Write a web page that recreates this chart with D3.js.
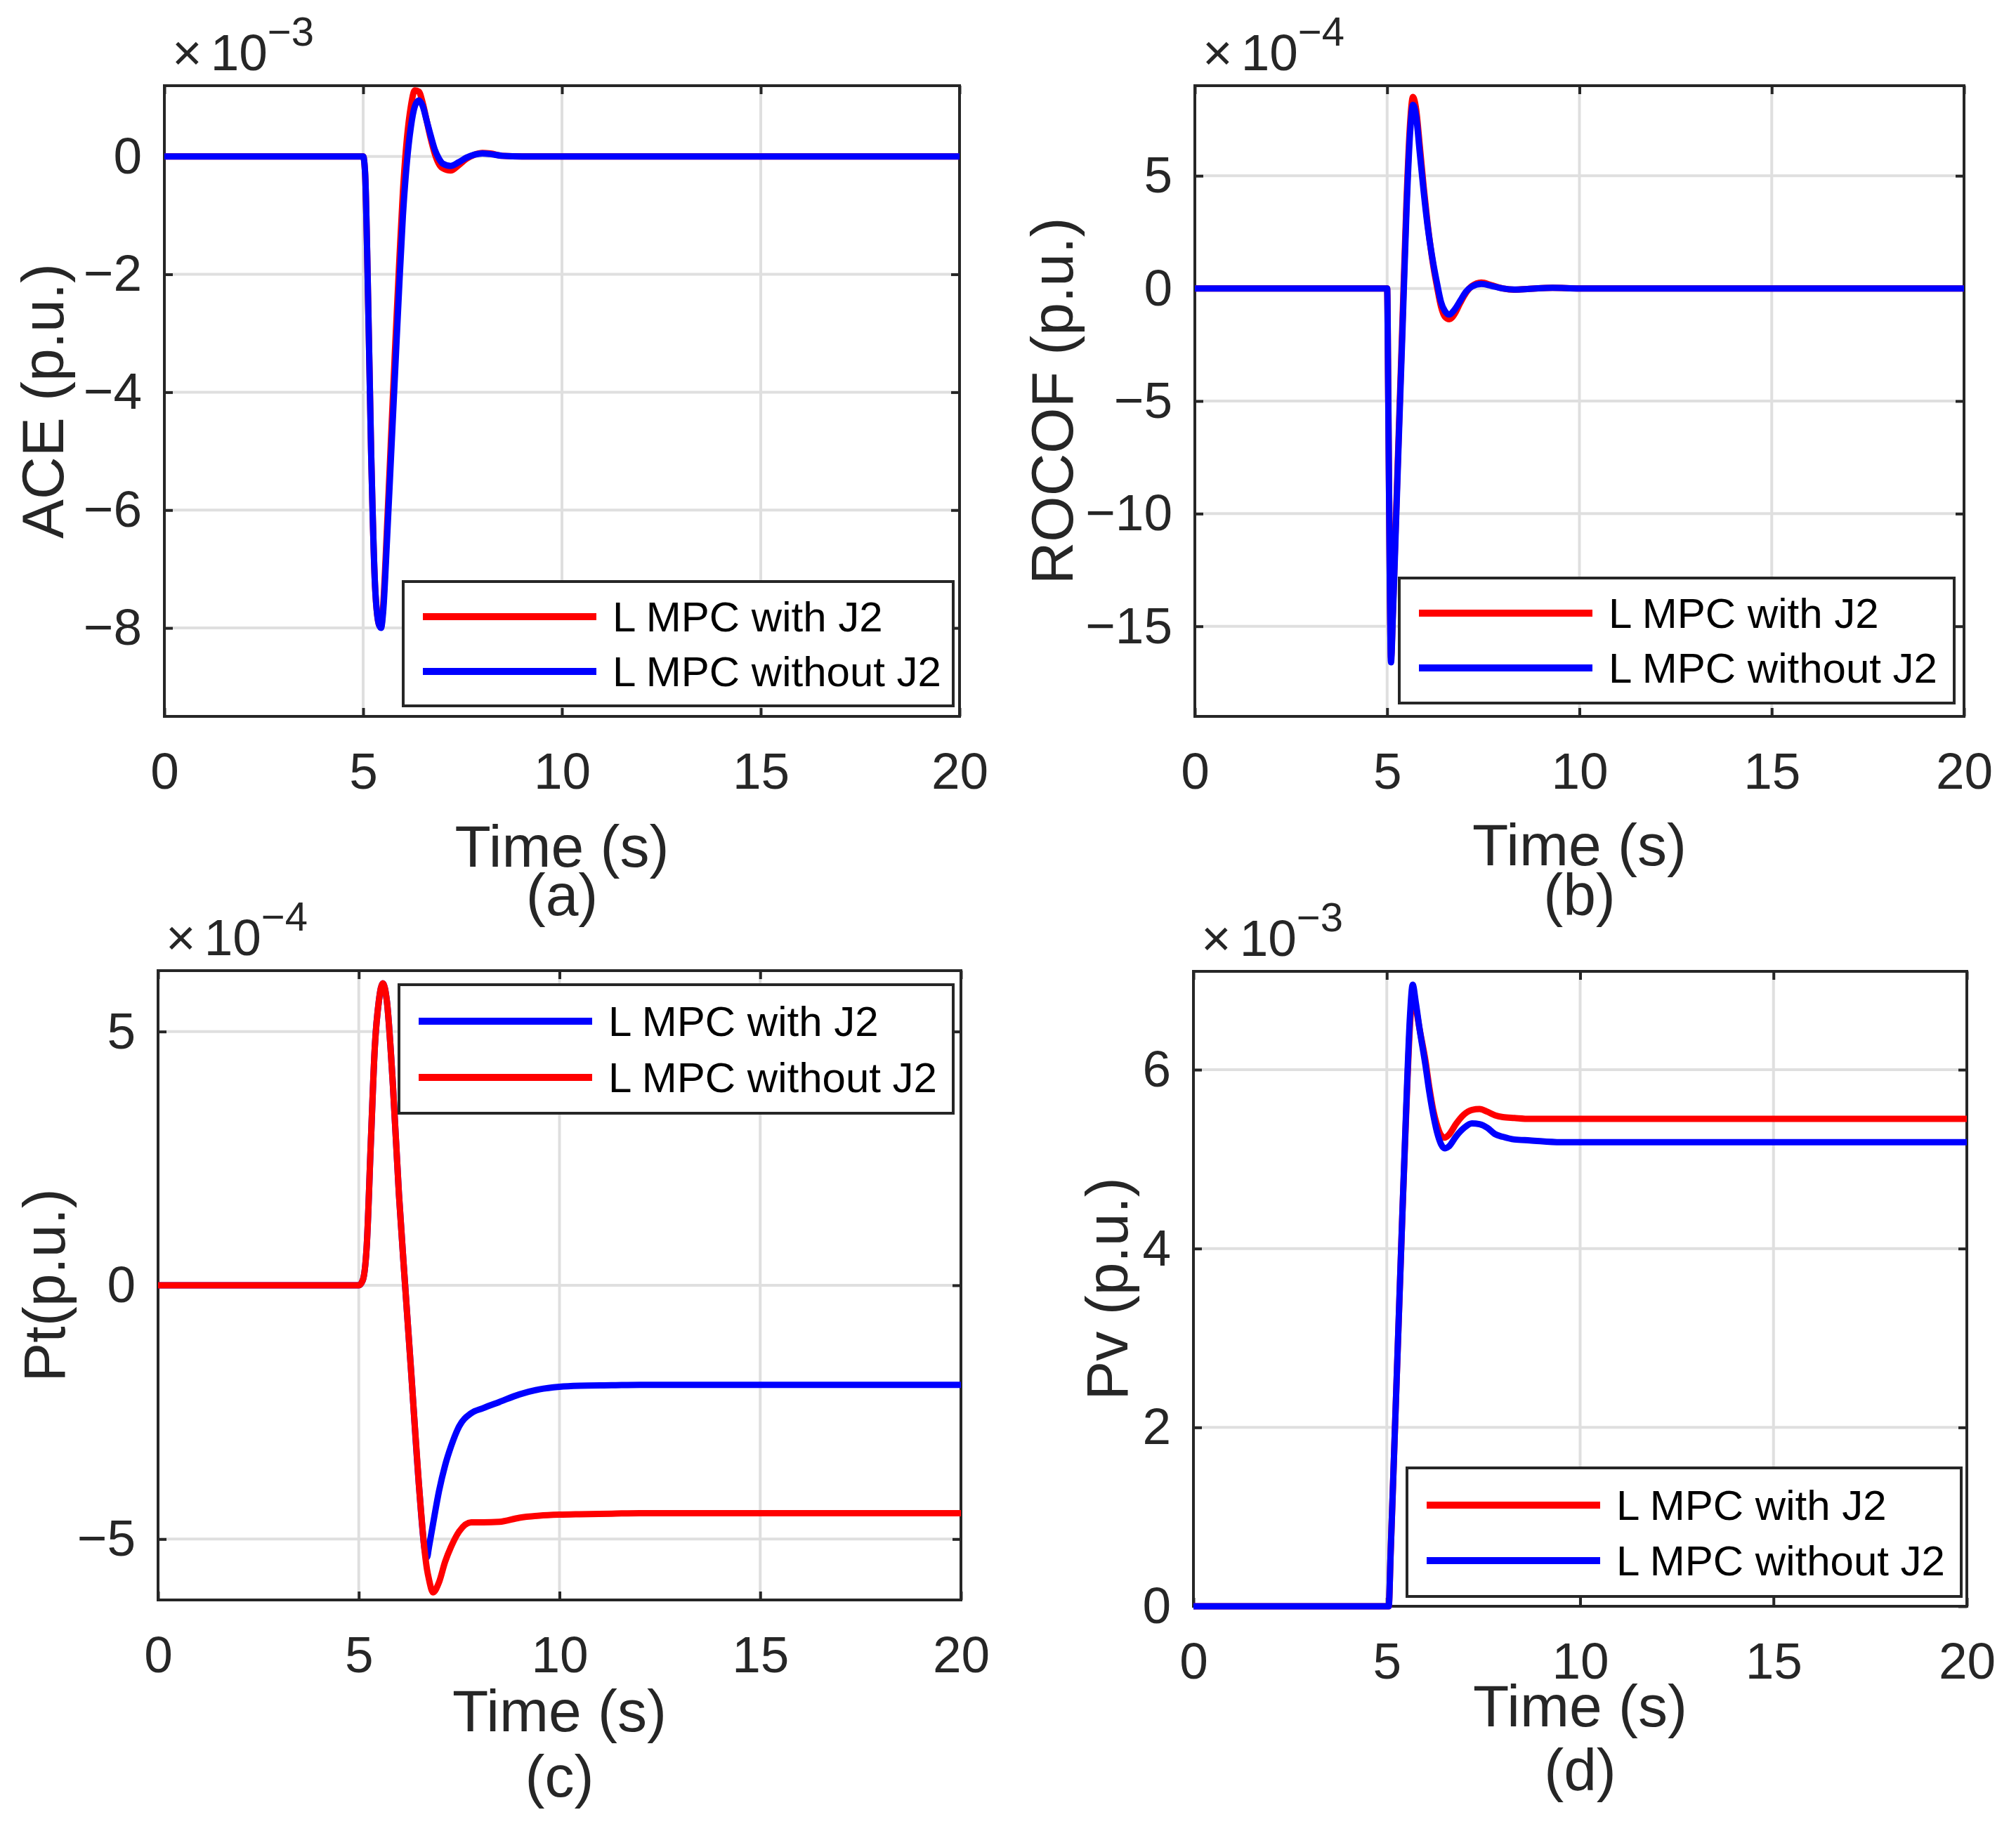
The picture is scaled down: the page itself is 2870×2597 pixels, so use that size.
<!DOCTYPE html>
<html>
<head>
<meta charset="utf-8">
<script src="https://cdn.jsdelivr.net/npm/d3@7"></script>
<style>
  body { margin: 0; background: #ffffff; }
  svg { display: block; background: #ffffff; }
</style>
</head>
<body>
<svg id="chart" width="2870" height="2597"></svg>
<script>
// ---------------- DATA ----------------
const timeTicks = [0, 5, 10, 15, 20];
const seriesNames = ["L MPC with J2", "L MPC without J2"];

// (a) ACE (x10^-3 p.u.)
const tA = [0, 5.0, 5.05, 5.1, 5.2, 5.3, 5.4, 5.45, 5.5, 5.6, 5.7, 5.8, 5.9, 6.0, 6.1, 6.2, 6.3, 6.4, 6.5, 6.6, 6.7, 6.8, 6.9, 7.0, 7.2, 7.4, 7.6, 7.8, 8.0, 8.2, 8.5, 9.0, 20];
const aceWithJ2 = [0, 0, -0.3, -1.6, -5.0, -7.3, -7.95, -7.98, -7.65, -6.3, -4.8, -3.3, -1.9, -0.6, 0.3, 0.85, 1.12, 1.1, 0.9, 0.6, 0.3, 0.05, -0.12, -0.2, -0.24, -0.15, -0.04, 0.03, 0.06, 0.05, 0.01, 0, 0];
const aceWithoutJ2 = [0, 0, -0.3, -1.6, -5.0, -7.3, -7.95, -8.0, -7.75, -6.5, -5.1, -3.7, -2.3, -1.0, -0.1, 0.5, 0.85, 0.95, 0.85, 0.6, 0.35, 0.12, -0.03, -0.12, -0.16, -0.1, -0.02, 0.03, 0.05, 0.04, 0.01, 0, 0];
const aceTicks = [-8, -6, -4, -2, 0];

// (b) ROCOF (x10^-4 p.u.)
const tB = [0, 5.0, 5.03, 5.07, 5.1, 5.15, 5.2, 5.3, 5.4, 5.5, 5.6, 5.67, 5.75, 5.85, 5.95, 6.05, 6.2, 6.3, 6.4, 6.5, 6.62, 6.75, 6.9, 7.05, 7.2, 7.45, 7.7, 8.0, 8.3, 8.7, 9.3, 10, 20];
const rocofWithJ2 = [0, 0, -5, -13, -16.4, -14.3, -11.7, -6.5, -1.4, 3.7, 7.4, 8.5, 8.0, 6.3, 4.5, 2.9, 1.0, 0.05, -0.8, -1.25, -1.37, -1.15, -0.65, -0.2, 0.1, 0.26, 0.15, 0.0, -0.06, -0.02, 0.03, 0, 0];
const rocofWithoutJ2 = [0, 0, -5, -13, -16.6, -14.5, -12, -6.8, -1.8, 3.3, 7.0, 8.15, 7.7, 6.0, 4.3, 2.8, 1.1, 0.2, -0.6, -1.0, -1.16, -0.95, -0.55, -0.15, 0.08, 0.2, 0.12, 0.0, -0.05, -0.02, 0.03, 0, 0];
const rocofTicks = [-15, -10, -5, 0, 5];

// (c) Pt (x10^-4 p.u.)
const tC = [0, 5.0, 5.1, 5.2, 5.3, 5.4, 5.5, 5.6, 5.7, 5.85, 6.0, 6.15, 6.3, 6.5, 6.65, 6.7, 6.75, 6.85, 7.0, 7.15, 7.3, 7.5, 7.8, 8.1, 8.5, 9.0, 9.5, 10.0, 10.5, 11.3, 12, 20];
const ptWithJ2 = [0, 0, 0.1, 0.8, 2.8, 4.7, 5.6, 5.95, 5.6, 3.95, 1.8, 0.05, -1.65, -3.95, -5.25, -5.36, -5.15, -4.7, -4.05, -3.55, -3.17, -2.78, -2.52, -2.42, -2.3, -2.15, -2.05, -2.0, -1.98, -1.97, -1.96, -1.96];
const ptWithoutJ2 = [0, 0, 0.1, 0.8, 2.8, 4.7, 5.6, 5.95, 5.6, 3.95, 1.8, 0.05, -1.65, -3.95, -5.3, -5.6, -5.8, -6.05, -5.85, -5.45, -5.15, -4.85, -4.67, -4.67, -4.66, -4.58, -4.54, -4.52, -4.51, -4.5, -4.49, -4.49];
const ptTicks = [-5, 0, 5];

// (d) Pv (x10^-3 p.u.)
const tD = [0, 5.0, 5.05, 5.1, 5.2, 5.3, 5.4, 5.5, 5.6, 5.67, 5.75, 5.85, 6.0, 6.1, 6.2, 6.3, 6.4, 6.5, 6.6, 6.8, 7.0, 7.2, 7.4, 7.6, 7.8, 8.0, 8.3, 8.7, 9.5, 10, 20];
const pvWithJ2 = [0, 0, 0, 0.6, 1.85, 3.1, 4.35, 5.5, 6.5, 6.85, 6.7, 6.45, 6.1, 5.8, 5.55, 5.38, 5.27, 5.24, 5.27, 5.4, 5.5, 5.55, 5.56, 5.53, 5.49, 5.47, 5.46, 5.45, 5.45, 5.45, 5.45];
const pvWithoutJ2 = [0, 0, 0, 0.6, 1.85, 3.1, 4.35, 5.55, 6.6, 6.95, 6.75, 6.45, 6.05, 5.75, 5.5, 5.3, 5.17, 5.12, 5.14, 5.26, 5.35, 5.4, 5.39, 5.35, 5.28, 5.25, 5.22, 5.21, 5.19, 5.19, 5.19];
const pvTicks = [0, 2, 4, 6];

// ---------------- STYLE / LAYOUT ----------------
const RED = "#ff0000", BLUE = "#0000ff";
const INK = "#262626", GRID = "#dfdfdf";
const FONT = '"Liberation Sans", Arial, Helvetica, sans-serif';
const TICK_FS = 73, LABEL_FS = 84, LEG_FS = 60, EXP_FS = 73, SUP_FS = 58;

const panels = [
  { cap: "(a)", ylabel: "ACE (p.u.)", exp: "\u22123", ylim: [-9.5, 1.2], yticks: aceTicks,
    box: { l: 234, r: 1366, t: 122, b: 1020 }, ylabX: 90, xlabY: 1234, capY: 1303,
    leg: { x: 574, y: 828, w: 783, h: 177, r1: 50, r2: 128 },
    series: [ { t: tA, v: aceWithJ2, c: RED, name: seriesNames[0] }, { t: tA, v: aceWithoutJ2, c: BLUE, name: seriesNames[1] } ] },
  { cap: "(b)", ylabel: "ROCOF (p.u.)", exp: "\u22124", ylim: [-19, 9], yticks: rocofTicks,
    box: { l: 1701, r: 2796, t: 122, b: 1020 }, ylabX: 1527, xlabY: 1232, capY: 1303,
    leg: { x: 1992, y: 823, w: 790, h: 178, r1: 50, r2: 128 },
    series: [ { t: tB, v: rocofWithJ2, c: RED, name: seriesNames[0] }, { t: tB, v: rocofWithoutJ2, c: BLUE, name: seriesNames[1] } ] },
  { cap: "(c)", ylabel: "Pt(p.u.)", exp: "\u22124", ylim: [-6.2, 6.2], yticks: ptTicks,
    box: { l: 225, r: 1368, t: 1382, b: 2278 }, ylabX: 92, xlabY: 2465, capY: 2558,
    leg: { x: 568, y: 1402, w: 789, h: 183, r1: 52, r2: 132 },
    series: [ { t: tC, v: ptWithJ2, c: BLUE, name: seriesNames[0] }, { t: tC, v: ptWithoutJ2, c: RED, name: seriesNames[1] } ] },
  { cap: "(d)", ylabel: "Pv (p.u.)", exp: "\u22123", ylim: [0, 7.1], yticks: pvTicks,
    box: { l: 1699, r: 2800, t: 1383, b: 2287 }, ylabX: 1605, xlabY: 2458, capY: 2549,
    leg: { x: 2003, y: 2090, w: 789, h: 183, r1: 53, r2: 132 },
    series: [ { t: tD, v: pvWithJ2, c: RED, name: seriesNames[0] }, { t: tD, v: pvWithoutJ2, c: BLUE, name: seriesNames[1] } ] }
];

const svg = d3.select("#chart");

function styleAxis(g) {
  g.attr("color", INK).attr("font-family", FONT).attr("font-size", TICK_FS);
  g.select(".domain").remove();
  g.selectAll(".tick line").attr("stroke-width", 4);
  g.selectAll(".tick text").attr("fill", INK);
}

panels.forEach(p => {
  const B = p.box;
  const x = d3.scaleLinear().domain([0, 20]).range([B.l, B.r]);
  const y = d3.scaleLinear().domain(p.ylim).range([B.b, B.t]);
  const g = svg.append("g");

  // grid
  g.append("g").selectAll("line").data(timeTicks).join("line")
    .attr("x1", d => x(d)).attr("x2", d => x(d)).attr("y1", B.t).attr("y2", B.b)
    .attr("stroke", GRID).attr("stroke-width", 4);
  g.append("g").selectAll("line").data(p.yticks).join("line")
    .attr("x1", B.l).attr("x2", B.r).attr("y1", d => y(d)).attr("y2", d => y(d))
    .attr("stroke", GRID).attr("stroke-width", 4);

  // axes (ticks pointing inward on all four sides)
  g.append("g").attr("transform", `translate(0,${B.b})`)
    .call(d3.axisBottom(x).tickValues(timeTicks).tickSize(-12).tickSizeOuter(0).tickPadding(51))
    .call(styleAxis);
  g.append("g").attr("transform", `translate(0,${B.t})`)
    .call(d3.axisTop(x).tickValues(timeTicks).tickSize(-12).tickSizeOuter(0).tickFormat(""))
    .call(styleAxis);
  g.append("g").attr("transform", `translate(${B.l},0)`)
    .call(d3.axisLeft(y).tickValues(p.yticks).tickSize(-12).tickSizeOuter(0).tickPadding(32).tickFormat(d3.format("d")))
    .call(styleAxis);
  g.append("g").attr("transform", `translate(${B.r},0)`)
    .call(d3.axisRight(y).tickValues(p.yticks).tickSize(-12).tickSizeOuter(0).tickFormat(""))
    .call(styleAxis);

  // box
  g.append("rect").attr("x", B.l).attr("y", B.t).attr("width", B.r - B.l).attr("height", B.b - B.t)
    .attr("fill", "none").attr("stroke", INK).attr("stroke-width", 4);

  // data lines
  p.series.forEach(s => {
    const pts = d3.zip(s.t, s.v);
    const line = d3.line().x(d => x(d[0])).y(d => y(d[1])).curve(d3.curveMonotoneX);
    g.append("path").attr("d", line(pts)).attr("fill", "none")
      .attr("stroke", s.c).attr("stroke-width", 9)
      .attr("stroke-linejoin", "round").attr("stroke-linecap", "butt");
  });

  // exponent label
  const ex = g.append("text").attr("x", B.l + 11).attr("y", B.t - 22)
    .attr("font-family", FONT).attr("font-size", EXP_FS).attr("fill", INK);
  ex.append("tspan").text("\u00d7");
  ex.append("tspan").attr("dx", 12).text("10");
  ex.append("tspan").attr("font-size", SUP_FS).attr("dy", -35).text(p.exp);

  // axis labels
  g.append("text").attr("x", (B.l + B.r) / 2).attr("y", p.xlabY)
    .attr("text-anchor", "middle").attr("font-family", FONT).attr("font-size", LABEL_FS)
    .attr("fill", INK).text("Time (s)");
  g.append("text").attr("x", (B.l + B.r) / 2).attr("y", p.capY)
    .attr("text-anchor", "middle").attr("font-family", FONT).attr("font-size", LABEL_FS)
    .attr("fill", INK).text(p.cap);
  g.append("text")
    .attr("transform", `translate(${p.ylabX},${(B.t + B.b) / 2}) rotate(-90)`)
    .attr("text-anchor", "middle").attr("font-family", FONT).attr("font-size", LABEL_FS)
    .attr("fill", INK).text(p.ylabel);

  // legend
  const Lg = p.leg;
  const lg = g.append("g");
  lg.append("rect").attr("x", Lg.x).attr("y", Lg.y).attr("width", Lg.w).attr("height", Lg.h)
    .attr("fill", "#ffffff").attr("stroke", INK).attr("stroke-width", 4);
  const rows = [Lg.r1, Lg.r2];
  p.series.forEach((s, i) => {
    const yy = Lg.y + rows[i];
    lg.append("line").attr("x1", Lg.x + 28).attr("x2", Lg.x + 275).attr("y1", yy).attr("y2", yy)
      .attr("stroke", s.c).attr("stroke-width", 10);
    lg.append("text").attr("x", Lg.x + 298).attr("y", yy + 21)
      .attr("font-family", FONT).attr("font-size", LEG_FS).attr("fill", "#000000").text(s.name);
  });
});
</script>
</body>
</html>
